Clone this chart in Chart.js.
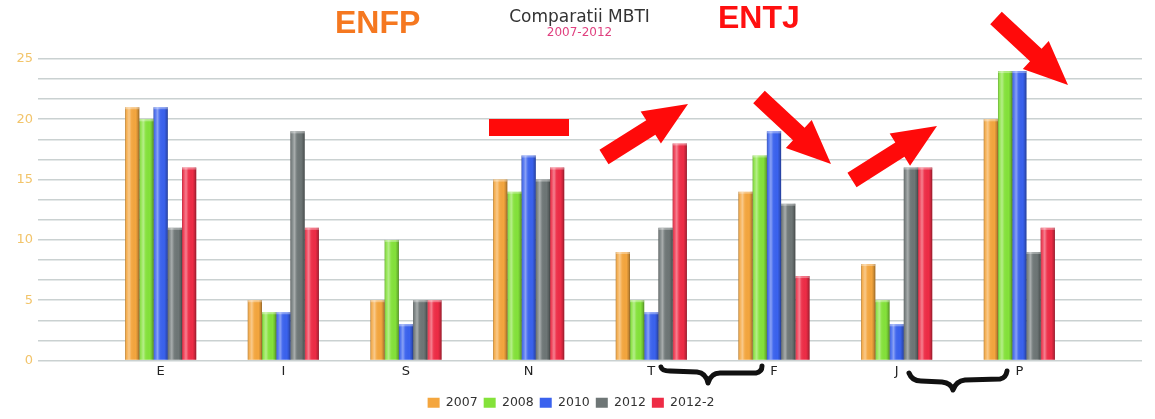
<!DOCTYPE html>
<html><head><meta charset="utf-8">
<script src="https://cdn.jsdelivr.net/npm/chart.js@4/dist/chart.umd.min.js"></script>
<style>html,body{margin:0;padding:0;background:#fff;}#wrap{width:1155px;height:419px;position:relative;}</style>
</head><body><div id="wrap"><canvas id="c"></canvas></div>
<script>
const categories = ['E','I','S','N','T','F','J','P'];
const seriesLabels = ['2007','2008','2010','2012','2012-2'];
const v2007  = [21, 5, 5, 15, 9, 14, 8, 20];
const v2008  = [20, 4, 10, 14, 5, 17, 5, 24];
const v2010  = [21, 4, 3, 17, 4, 19, 3, 24];
const v2012  = [11, 19, 5, 15, 11, 13, 16, 9];
const v2012b = [16, 11, 5, 16, 18, 7, 16, 11];
const yTickLabels = [0, 5, 10, 15, 20, 25];
const colors = ['#f4a63e', '#84e23a', '#3a62ee', '#6e7676', '#ee2c46'];
const titleText = 'Comparatii MBTI';
const subtitleText = '2007-2012';

const seriesValues = [v2007, v2008, v2010, v2012, v2012b];

const shine = {
  id: 'shine',
  afterDatasetsDraw(chart) {
    const ctx = chart.ctx;
    chart.data.datasets.forEach((ds, di) => {
      const meta = chart.getDatasetMeta(di);
      meta.data.forEach(el => {
        const p = el.getProps(['x', 'y', 'base', 'width'], true);
        const l = p.x - p.width / 2;
        const g = ctx.createLinearGradient(l, 0, l + p.width, 0);
        g.addColorStop(0, 'rgba(0,0,0,0.3)');
        g.addColorStop(0.1, 'rgba(255,255,255,0.1)');
        g.addColorStop(0.28, 'rgba(255,255,255,0.4)');
        g.addColorStop(0.45, 'rgba(255,255,255,0.05)');
        g.addColorStop(0.75, 'rgba(0,0,0,0)');
        g.addColorStop(0.9, 'rgba(0,0,0,0.18)');
        g.addColorStop(1, 'rgba(0,0,0,0.4)');
        ctx.save();
        ctx.fillStyle = g;
        ctx.fillRect(l, p.y, p.width, p.base - p.y);
        ctx.fillStyle = 'rgba(255,255,255,0.35)';
        ctx.fillRect(l, p.y, p.width, 2);
        ctx.restore();
      });
    });
  }
};

function arrow(ctx, tx, ty, px, py, ws, wh, hl) {
  const dx = px - tx, dy = py - ty, L = Math.hypot(dx, dy);
  const ux = dx / L, uy = dy / L, nx = -uy, ny = ux;
  const bx = px - ux * hl, by = py - uy * hl;
  ctx.beginPath();
  ctx.moveTo(tx + nx * ws / 2, ty + ny * ws / 2);
  ctx.lineTo(bx + nx * ws / 2, by + ny * ws / 2);
  ctx.lineTo(bx + nx * wh / 2, by + ny * wh / 2);
  ctx.lineTo(px, py);
  ctx.lineTo(bx - nx * wh / 2, by - ny * wh / 2);
  ctx.lineTo(bx - nx * ws / 2, by - ny * ws / 2);
  ctx.lineTo(tx - nx * ws / 2, ty - ny * ws / 2);
  ctx.closePath();
  ctx.fill();
}

const notes = {
  id: 'notes',
  afterDraw(chart) {
    const ctx = chart.ctx;
    ctx.save();
    ctx.textBaseline = 'alphabetic';
    ctx.textAlign = 'center';
    ctx.fillStyle = '#333';
    ctx.font = '17px "DejaVu Sans", sans-serif';
    ctx.fillText(titleText, 579.5, 22);
    ctx.fillStyle = '#e0407f';
    ctx.font = '12px "DejaVu Sans", sans-serif';
    ctx.fillText(subtitleText, 579.5, 36);

    ctx.font = 'bold 32px "Liberation Sans", Arial, sans-serif';
    ctx.textAlign = 'left';
    ctx.fillStyle = '#f57820';
    ctx.fillText('ENFP', 335, 33);
    ctx.fillStyle = '#ff1010';
    ctx.fillText('ENTJ', 718, 28);
    ctx.fillStyle = '#ff0a0a';
    ctx.fillRect(489, 119, 80, 17);
    arrow(ctx, 604, 157, 688, 104, 17, 38, 44);
    arrow(ctx, 759, 97, 831, 164, 17, 38, 44);
    arrow(ctx, 852, 180, 937, 126, 17, 38, 44);
    arrow(ctx, 996, 18, 1068, 85, 17, 38, 44);
    ctx.strokeStyle = '#111';
    ctx.lineWidth = 5;
    ctx.lineCap = 'round';
    ctx.lineJoin = 'round';
    ctx.beginPath();
    ctx.moveTo(661, 367);
    ctx.quadraticCurveTo(662, 371, 670, 371);
    ctx.lineTo(697, 372);
    ctx.quadraticCurveTo(706, 373, 708, 383);
    ctx.quadraticCurveTo(711, 373, 720, 373);
    ctx.lineTo(756, 373);
    ctx.quadraticCurveTo(762, 372, 762, 366);
    ctx.stroke();
    ctx.beginPath();
    ctx.moveTo(909, 373);
    ctx.quadraticCurveTo(912, 381, 921, 381);
    ctx.lineTo(942, 382);
    ctx.quadraticCurveTo(951, 383, 953, 390);
    ctx.quadraticCurveTo(956, 381, 965, 380);
    ctx.lineTo(1000, 379);
    ctx.quadraticCurveTo(1006, 378, 1007, 371);
    ctx.stroke();
    ctx.restore();
  }
};

const datasets = seriesLabels.map((lab, i) => ({
  label: lab,
  data: seriesValues[i].map((v, k) => ({ x: k, y: v })),
  backgroundColor: colors[i],
  borderWidth: 0,
  categoryPercentage: 0.58,
  barPercentage: 1.0
}));

new Chart(document.getElementById('c'), {
  type: 'bar',
  data: { datasets },
  plugins: [shine, notes],
  options: {
    responsive: true,
    maintainAspectRatio: false,
    animation: false,
    layout: { padding: { left: 0, right: 13, top: 59, bottom: 0 } },
    plugins: {
      title: { display: false },
      subtitle: { display: false },
      legend: {
        position: 'bottom',
        labels: {
          boxWidth: 12, boxHeight: 10, padding: 6, color: '#333',
          font: { family: 'DejaVu Sans', size: 12.5 }
        }
      },
      tooltip: { enabled: false }
    },
    scales: {
      x: {
        type: 'linear', min: -1, max: 8, offset: false,
        grid: { display: false, drawTicks: false, tickLength: 0 }, border: { display: false },
        afterBuildTicks: s => { s.ticks = categories.map((c, i) => ({ value: i })); },
        afterFit: s => { s.height = 30; },
        ticks: {
          autoSkip: false, maxRotation: 0, padding: 3, color: '#222',
          font: { family: 'DejaVu Sans', size: 13 },
          callback: v => categories[v] !== undefined ? categories[v] : ''
        }
      },
      y: {
        min: 0, max: 25,
        border: { display: false },
        grid: { color: '#cad1d1', lineWidth: 1.6, drawTicks: false },
        afterFit: s => { s.width = 38; },
        ticks: {
          stepSize: 5 / 3, autoSkip: false, padding: 5, color: '#f2c46a',
          font: { family: 'DejaVu Sans', size: 13 },
          callback: v => {
            const m = yTickLabels.find(t => Math.abs(t - v) < 1e-6);
            return m !== undefined ? String(m) : '';
          }
        }
      }
    }
  }
});
</script>
</body></html>
